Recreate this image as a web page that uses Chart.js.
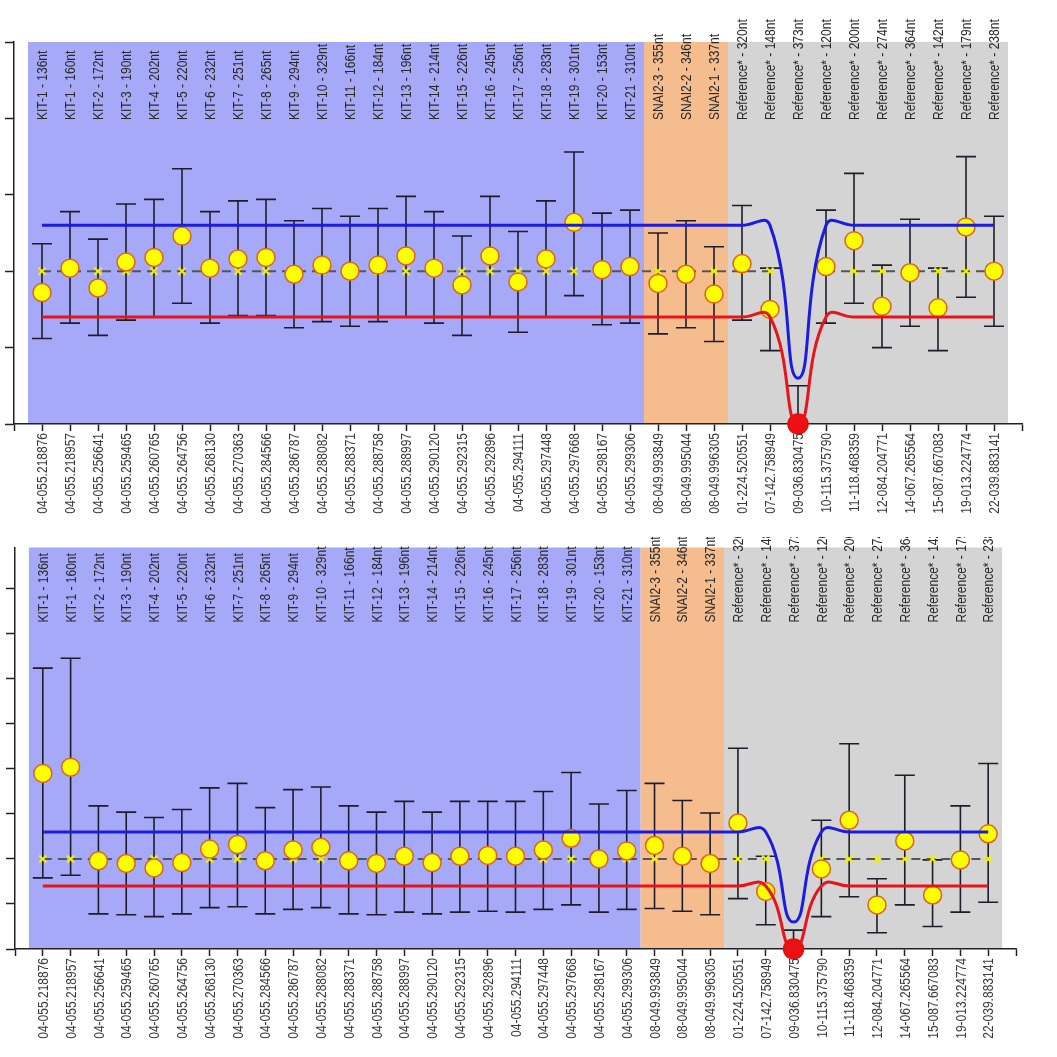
<!DOCTYPE html>
<html>
<head>
<meta charset="utf-8">
<script src="https://cdn.jsdelivr.net/npm/chart.js@4.4.0/dist/chart.umd.min.js"></script>
<style>
  html, body { margin:0; padding:0; background:#fff; }
  body { width:1057px; height:1057px; position:relative; overflow:hidden; }
  .panel { position:absolute; left:0; }
  #top { top:0; }
  #bottom { top:537px; }
</style>
</head>
<body>
<div class="panel" id="top"><canvas id="chartTop" width="1057" height="530"></canvas></div>
<div class="panel" id="bottom"><canvas id="chartBottom" width="1057" height="520"></canvas></div>
<script>
// ---------------------
// categories
// ---------------------
const sampleIds = [
  "04-055.218876","04-055.218957","04-055.256641","04-055.259465","04-055.260765","04-055.264756",
  "04-055.268130","04-055.270363","04-055.284566","04-055.286787","04-055.288082","04-055.288371",
  "04-055.288758","04-055.288997","04-055.290120","04-055.292315","04-055.292896","04-055.294111",
  "04-055.297448","04-055.297668","04-055.298167","04-055.299306",
  "08-049.993849","08-049.995044","08-049.996305",
  "01-224.520551","07-142.758949","09-036.830475","10-115.375790","11-118.468359",
  "12-084.204771","14-067.265564","15-087.667083","19-013.224774","22-039.883141"
];
const assays = [
  "KIT-1 - 136nt","KIT-1 - 160nt","KIT-2 - 172nt","KIT-3 - 190nt","KIT-4 - 202nt","KIT-5 - 220nt",
  "KIT-6 - 232nt","KIT-7 - 251nt","KIT-8 - 265nt","KIT-9 - 294nt","KIT-10 - 329nt","KIT-11 - 166nt",
  "KIT-12 - 184nt","KIT-13 - 196nt","KIT-14 - 214nt","KIT-15 - 226nt","KIT-16 - 245nt","KIT-17 - 256nt",
  "KIT-18 - 283nt","KIT-19 - 301nt","KIT-20 - 153nt","KIT-21 - 310nt",
  "SNAI2-3 - 355nt","SNAI2-2 - 346nt","SNAI2-1 - 337nt",
  "Reference* - 320nt","Reference* - 148nt","Reference* - 373nt","Reference* - 120nt","Reference* - 200nt",
  "Reference* - 274nt","Reference* - 364nt","Reference* - 142nt","Reference* - 179nt","Reference* - 238nt"
];
const groupSizes = [22, 3, 10];   // KIT / SNAI2 / Reference
const baseline = [1,1,1,1,1,1,1,1,1,1,1,1,1,1,1,1,1,1,1,1,1,1,1,1,1,1,1,null,1,1,1,1,1,1,1];

// ---------------------
// top panel values
// ---------------------
const topMean = [0.86,1.02,0.89,1.06,1.09,1.23,1.02,1.08,1.09,0.98,1.04,1.00,1.04,1.10,1.02,0.91,1.10,0.93,1.08,1.32,1.01,1.03,0.92,0.98,0.85,1.05,0.75,0,1.03,1.20,0.77,0.99,0.76,1.29,1.00];
const topHigh = [1.18,1.39,1.21,1.44,1.47,1.67,1.39,1.46,1.47,1.33,1.41,1.36,1.41,1.49,1.39,1.23,1.49,1.26,1.46,1.78,1.38,1.40,1.25,1.33,1.16,1.43,1.02,0.25,1.40,1.64,1.04,1.34,1.02,1.75,1.36];
const topLow  = [0.56,0.66,0.58,0.68,0.70,0.79,0.66,0.71,0.71,0.63,0.67,0.64,0.67,0.70,0.66,0.58,0.70,0.60,0.70,0.84,0.65,0.66,0.59,0.63,0.54,0.68,0.48,0,0.66,0.79,0.50,0.64,0.48,0.83,0.64];
const topUpper = [1.3,1.3,1.3,1.3,1.3,1.3,1.3,1.3,1.3,1.3,1.3,1.3,1.3,1.3,1.3,1.3,1.3,1.3,1.3,1.3,1.3,1.3,1.3,1.3,1.3,1.3,1.3,0.3,1.3,1.3,1.3,1.3,1.3,1.3,1.3];
const topLower = [0.7,0.7,0.7,0.7,0.7,0.7,0.7,0.7,0.7,0.7,0.7,0.7,0.7,0.7,0.7,0.7,0.7,0.7,0.7,0.7,0.7,0.7,0.7,0.7,0.7,0.7,0.7,0.0,0.7,0.7,0.7,0.7,0.7,0.7,0.7];

// ---------------------
// bottom panel values
// ---------------------
const botMean = [1.95,2.02,0.98,0.95,0.90,0.96,1.11,1.16,0.98,1.10,1.13,0.98,0.95,1.03,0.96,1.03,1.04,1.03,1.10,1.23,1.00,1.09,1.15,1.03,0.95,1.40,0.64,0,0.89,1.43,0.49,1.20,0.60,0.99,1.28];
const botHigh = [3.12,3.23,1.59,1.52,1.46,1.55,1.79,1.84,1.57,1.77,1.80,1.59,1.52,1.64,1.52,1.64,1.64,1.64,1.75,1.96,1.61,1.76,1.84,1.65,1.51,2.23,1.03,0.21,1.43,2.28,0.78,1.93,0.99,1.59,2.06];
const botLow  = [0.79,0.82,0.39,0.38,0.36,0.39,0.46,0.47,0.39,0.44,0.46,0.39,0.38,0.41,0.39,0.41,0.42,0.41,0.44,0.49,0.41,0.44,0.45,0.42,0.38,0.56,0.27,0,0.36,0.58,0.18,0.49,0.25,0.41,0.52];
const botUpper = [1.3,1.3,1.3,1.3,1.3,1.3,1.3,1.3,1.3,1.3,1.3,1.3,1.3,1.3,1.3,1.3,1.3,1.3,1.3,1.3,1.3,1.3,1.3,1.3,1.3,1.3,1.3,0.3,1.3,1.3,1.3,1.3,1.3,1.3,1.3];
const botLower = [0.7,0.7,0.7,0.7,0.7,0.7,0.7,0.7,0.7,0.7,0.7,0.7,0.7,0.7,0.7,0.7,0.7,0.7,0.7,0.7,0.7,0.7,0.7,0.7,0.7,0.7,0.7,0.0,0.7,0.7,0.7,0.7,0.7,0.7,0.7];

const FONT = "15px 'Liberation Sans', Arial, sans-serif";
const SQUEEZE = 0.8;   // narrow look of the original labels
const bandColors = ["#a6a9f8", "#f5bc8e", "#d4d4d4"];
const AXIS = "#222";

// rotated, squeezed text (reads bottom to top)
function vText(ctx, t, x, y, align){
  ctx.save();
  ctx.translate(x, y);
  ctx.rotate(-Math.PI / 2);
  ctx.scale(SQUEEZE, 1);
  ctx.textAlign = align;
  ctx.fillText(t, 0, 0);
  ctx.restore();
}

// ---------------------
// bands, error bars, labels
// ---------------------
const panelDecor = {
  id: "panelDecor",
  beforeDraw(chart) {
    const {ctx, chartArea:a, scales:{x}} = chart;
    let start = -0.5;
    groupSizes.forEach((n, g)=>{
      const x0 = x.getPixelForValue(start), x1 = x.getPixelForValue(start + n);
      ctx.fillStyle = bandColors[g];
      ctx.fillRect(x0, a.top, x1 - x0, a.bottom - a.top);
      start += n;
    });
  },
  beforeDatasetsDraw(chart, args, opts) {
    const {ctx, scales:{x, y}} = chart;
    ctx.save();
    ctx.strokeStyle = "#1d1d2b";
    ctx.lineWidth = 1.6;
    opts.low.forEach((lo, i)=>{
      const px = x.getPixelForValue(i);
      const yl = y.getPixelForValue(lo), yh = y.getPixelForValue(opts.high[i]);
      ctx.beginPath();
      ctx.moveTo(px, yl); ctx.lineTo(px, yh);
      ctx.moveTo(px - 10, yh); ctx.lineTo(px + 10, yh);
      if (lo > 0) { ctx.moveTo(px - 10, yl); ctx.lineTo(px + 10, yl); }
      ctx.stroke();
    });
    ctx.restore();
  },
  afterDraw(chart, args, opts) {
    const {ctx, chartArea:a, scales:{x}} = chart;
    ctx.save();
    ctx.font = FONT;
    ctx.textBaseline = "middle";
    ctx.fillStyle = "#2a2a2a";
    assays.forEach((t, i)=> vText(ctx, t, x.getPixelForValue(i) + 1, a.top + opts.labelOffset, "left"));
    ctx.fillStyle = "#3a3a3a";
    sampleIds.forEach((t, i)=> vText(ctx, t, x.getPixelForValue(i) + 1, a.bottom + 9, "right"));
    ctx.restore();
  }
};

function pts(arr){ return arr.map((v, i)=>({x:i, y:v})); }

function buildChart(id, p){
  return new Chart(document.getElementById(id), {
    type: "line",
    data: {
      datasets: [
        {data:pts(p.upper), borderColor:"#1c1ce0", borderWidth:3, pointRadius:0, tension:0.5, order:0},
        {data:pts(p.lower), borderColor:"#e8141c", borderWidth:3, pointRadius:0, tension:0.5, order:0},
        {data:pts(p.mean), showLine:false, clip:false, order:1,
          pointRadius:p.mean.map(v=>v===0 ? 10 : 9),
          pointBackgroundColor:p.mean.map(v=>v===0 ? "#ee1010" : "#ffff00"),
          pointBorderColor:p.mean.map(v=>v===0 ? "#e01010" : "#e0601e"),
          pointBorderWidth:1.5},
        {data:pts(baseline), borderColor:"#555", borderWidth:2, borderDash:[9,6], order:2,
          pointStyle:"crossRot", pointRadius:5, pointBorderColor:"#f2f200", pointBorderWidth:2}
      ]
    },
    options: {
      responsive:false, animation:false,
      layout:{padding:p.padding},
      plugins:{
        legend:{display:false}, tooltip:{enabled:false},
        panelDecor:{low:p.low, high:p.high, labelOffset:p.labelOffset}
      },
      scales:{
        x:{
          type:"linear", min:-1, max:35,
          afterBuildTicks: s=>{ s.ticks = Array.from({length:37}, (_, k)=>({value:k-1})); },
          afterFit: s=>{ s.height = 100; s.paddingLeft = 0; s.paddingRight = 0; },
          grid:{drawOnChartArea:false, drawTicks:true, tickLength:7, tickColor:AXIS, tickWidth:1.5},
          border:{display:true, color:AXIS, width:1.5},
          ticks:{display:false}
        },
        y:{
          min:0, max:p.yMax,
          afterBuildTicks: s=>{ s.ticks = s.ticks.filter(t=>Math.abs(t.value * 2 - Math.round(t.value * 2)) < 1e-6); },
          afterFit: s=>{ s.width = 9; s.paddingTop = 0; s.paddingBottom = 0; },
          ticks:{display:false, stepSize:0.5},
          grid:{drawOnChartArea:false, drawTicks:true, tickLength:9, tickColor:AXIS, tickWidth:1.5},
          border:{display:true, color:AXIS, width:1.5}
        }
      }
    },
    plugins:[panelDecor]
  });
}

buildChart("chartTop", {
  mean:topMean, high:topHigh, low:topLow, upper:topUpper, lower:topLower,
  yMax:2.5, labelOffset:78, padding:{left:5, right:35, top:42, bottom:6}
});
buildChart("chartBottom", {
  mean:botMean, high:botHigh, low:botLow, upper:botUpper, lower:botLower,
  yMax:4.46, labelOffset:75, padding:{left:6, right:41, top:8, bottom:8}
});
</script>
</body>
</html>
